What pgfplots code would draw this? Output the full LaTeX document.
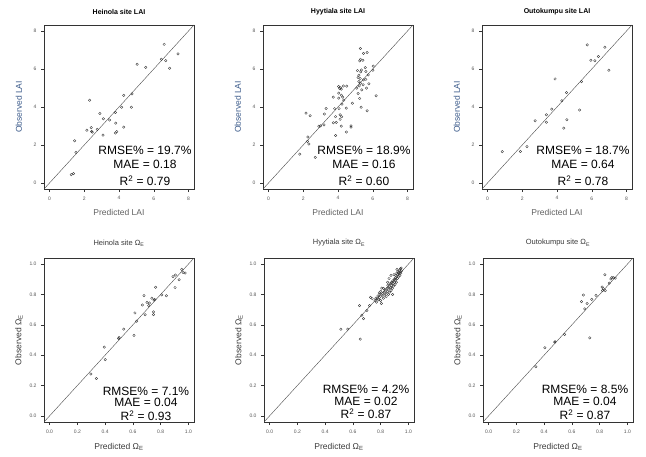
\documentclass[border=0pt]{standalone}
\usepackage{fontspec}
\setmainfont{Liberation Sans}
\usepackage{pgfplots}
\pgfplotsset{compat=1.18}

\definecolor{lblblue}{HTML}{3B5A8A}
\definecolor{lblgray}{HTML}{3A3A3A}
\definecolor{tickgray}{HTML}{555555}

\tikzset{stat/.style={font=\fontsize{12}{12}\selectfont, anchor=center}}

\pgfplotsset{
  rpanel/.style={
    scale only axis, width=150pt, height=164pt,
    axis line style={black!80, line width=0.5pt},
    tick align=outside, xtick pos=left, ytick pos=left,
    major tick length=3pt,
    tick style={black!80, line width=0.4pt},
    /pgf/number format/assume math mode=true,
    ticklabel style={font=\fontsize{5}{5}\selectfont, text=tickgray},
    xticklabel style={yshift=-1pt},
    yticklabel style={xshift=-1pt},
    label style={font=\fontsize{8.5}{9}\selectfont},
    ylabel style={at={(axis description cs:-0.167,0.5)}, anchor=center},
  },
  laipanel/.style={rpanel,
    xmin=-0.32, xmax=8.32, ymin=-0.32, ymax=8.32,
    xtick={0,2,4,6,8}, ytick={0,2,4,6,8},
    title style={font=\fontsize{7}{7}\bfseries, at={(axis description cs:0.5,1.092)}, anchor=center, yshift=-8pt},
    xlabel style={at={(axis description cs:0.5,-0.146)}, anchor=center, text=lblgray!80},
    ylabel style={text=lblblue},
    xlabel={Predicted LAI}, ylabel={Observed LAI},
  },
  omgpanel/.style={rpanel,
    xmin=-0.04, xmax=1.04, ymin=-0.04, ymax=1.04,
    xtick={0,0.2,...,1}, ytick={0,0.2,...,1},
    /pgf/number format/.cd, fixed, fixed zerofill, precision=1, /pgfplots/.cd,
    title style={font=\fontsize{7.5}{7.5}\selectfont, text=lblgray, at={(axis description cs:0.5,1.104)}, anchor=center, yshift=-8pt},
    xlabel style={at={(axis description cs:0.5,-0.15)}, anchor=center, text=lblgray},
    ylabel style={text=lblgray},
    xlabel={Predicted Ω\textsubscript{E}}, ylabel={Observed Ω\textsubscript{E}},
  },
  pts/.style={only marks, mark=o, mark size=1.25pt, mark options={line width=0.35pt, draw=black!80}},
  oneone/.style={black!70, line width=0.4pt},
}

\begin{document}
\begin{tikzpicture}
\useasboundingbox (0,0) rectangle (646pt,456pt);

% ---------------- top row: LAI ----------------
\begin{axis}[laipanel, at={(44pt,267pt)}, anchor=south west, title={Heinola site LAI}]
\addplot[oneone] coordinates {(-0.32,-0.32) (8.32,8.32)};
\addplot[pts] coordinates {
(6.60,7.30) (7.40,6.80) (6.44,6.51) (6.69,6.44) (6.92,6.04) (5.04,6.25) (5.54,6.09)
(4.75,4.69) (4.27,4.61) (2.31,4.36) (4.15,3.99) (4.71,3.99) (3.79,3.71) (2.90,3.66)
(3.10,3.38) (3.46,3.31) (3.81,3.15) (4.27,2.94) (2.40,2.91) (2.15,2.78) (2.75,2.82)
(2.42,2.71) (2.46,2.68) (3.87,2.70) (3.79,2.63) (3.08,2.52) (1.44,2.22) (1.52,1.61)
(1.25,0.44) (1.38,0.49)
};
\node[stat] at (rel axis cs:0.673,0.238) {RMSE\% = 19.7\%};
\node[stat] at (rel axis cs:0.673,0.152) {MAE = 0.18};
\node[stat] at (rel axis cs:0.673,0.049) {R\textsuperscript{2} = 0.79};
\end{axis}

\begin{axis}[laipanel, at={(263pt,267pt)}, anchor=south west, title={Hyytiala site LAI}]
\addplot[oneone] coordinates {(-0.32,-0.32) (8.32,8.32)};
\addplot[pts] coordinates {
(5.29,7.08) (5.68,6.87) (5.47,6.83) (5.29,6.51) (5.43,6.46) (5.25,6.43) (6.03,6.15)
(5.57,6.08) (5.35,5.95) (6.01,5.94) (5.12,5.92) (5.31,5.85) (5.60,5.87) (5.74,5.69)
(5.20,5.67) (5.16,5.55) (5.28,5.50) (5.60,5.46) (5.47,5.43) (5.20,5.34) (5.29,5.25)
(5.78,5.22) (5.45,5.17) (5.22,5.11) (5.08,4.99) (5.64,4.99) (5.37,4.90) (5.16,4.71)
(6.20,4.59) (5.25,4.45) (5.33,3.99) (5.68,3.80) (4.83,4.20) (4.04,5.08) (4.15,5.01)
(4.31,5.11) (4.19,4.94) (4.10,4.97) (4.50,5.10) (4.04,4.73) (4.19,4.62) (4.27,4.52)
(4.04,4.47) (3.73,4.52) (4.33,4.36) (4.23,4.15) (4.48,3.94) (4.06,3.91) (3.81,3.91)
(3.32,3.92) (3.21,3.63) (4.12,3.59) (4.21,3.49) (3.86,3.49) (4.12,3.35) (3.90,3.19)
(3.73,3.17) (4.19,2.99) (4.75,3.01) (4.75,2.94) (4.48,2.68) (3.86,2.50) (3.19,3.06)
(2.90,2.99) (2.99,3.01) (2.16,3.68) (2.40,3.54) (2.26,2.42) (2.24,2.19) (2.32,2.05)
(2.69,1.35) (1.80,1.52)
};
\node[stat] at (rel axis cs:0.673,0.238) {RMSE\% = 18.9\%};
\node[stat] at (rel axis cs:0.673,0.152) {MAE = 0.16};
\node[stat] at (rel axis cs:0.673,0.049) {R\textsuperscript{2} = 0.60};
\end{axis}

\begin{axis}[laipanel, at={(482pt,267pt)}, anchor=south west, title={Outokumpu site LAI}]
\addplot[oneone] coordinates {(-0.32,-0.32) (8.32,8.32)};
\addplot[pts] coordinates {
(5.74,7.27) (6.76,7.15) (5.95,6.46) (6.18,6.44) (6.38,6.66) (6.99,5.94) (3.89,5.48)
(5.41,5.34) (4.55,4.76) (4.28,4.33) (3.70,3.89) (3.39,3.59) (5.30,3.84) (3.39,3.20)
(4.57,3.33) (2.74,3.27) (4.39,2.89) (2.27,1.91) (1.89,1.66) (0.85,1.65)
};
\node[stat] at (rel axis cs:0.673,0.238) {RMSE\% = 18.7\%};
\node[stat] at (rel axis cs:0.673,0.152) {MAE = 0.64};
\node[stat] at (rel axis cs:0.673,0.049) {R\textsuperscript{2} = 0.78};
\end{axis}

% ---------------- bottom row: Omega_E ----------------
\begin{axis}[omgpanel, at={(44pt,34pt)}, anchor=south west, title={Heinola site Ω\textsubscript{E}}]
\addplot[oneone] coordinates {(-0.04,-0.04) (1.04,1.04)};
\addplot[pts] coordinates {
(0.952,0.965) (0.962,0.945) (0.976,0.941) (0.889,0.917) (0.933,0.897) (0.906,0.928)
(0.764,0.847) (0.904,0.845) (0.808,0.797) (0.841,0.792) (0.680,0.792) (0.736,0.775)
(0.702,0.748) (0.719,0.744) (0.668,0.731) (0.714,0.726) (0.752,0.762) (0.757,0.767)
(0.748,0.685) (0.748,0.667) (0.688,0.667) (0.615,0.678) (0.627,0.624) (0.534,0.571)
(0.498,0.510) (0.501,0.516) (0.608,0.530) (0.394,0.453) (0.401,0.370) (0.298,0.276)
(0.337,0.247)
};
\node[stat] at (rel axis cs:0.68,0.189) {RMSE\% = 7.1\%};
\node[stat] at (rel axis cs:0.68,0.122) {MAE = 0.04};
\node[stat] at (rel axis cs:0.68,0.037) {R\textsuperscript{2} = 0.93};
\end{axis}

\begin{axis}[omgpanel, at={(264pt,34pt)}, anchor=south west, title={Hyytiala site Ω\textsubscript{E}}]
\addplot[oneone] coordinates {(-0.04,-0.04) (1.04,1.04)};
\addplot[pts] coordinates {
(0.513,0.571) (0.563,0.571) (0.653,0.505) (0.648,0.726) (0.665,0.663) (0.677,0.641)
(0.701,0.694) (0.720,0.726) (0.727,0.781) (0.739,0.772)
(0.760,0.760) (0.765,0.775) (0.770,0.750) (0.775,0.770) (0.780,0.790) (0.785,0.765)
(0.790,0.780) (0.795,0.800) (0.800,0.760) (0.800,0.820) (0.805,0.740) (0.808,0.842)
(0.810,0.790) (0.815,0.805) (0.820,0.775) (0.825,0.815) (0.830,0.795) (0.832,0.830)
(0.838,0.810) (0.840,0.785) (0.845,0.840) (0.848,0.820) (0.852,0.860) (0.855,0.800)
(0.858,0.835) (0.862,0.850) (0.865,0.815) (0.868,0.870) (0.872,0.845) (0.875,0.825)
(0.878,0.880) (0.880,0.860) (0.884,0.840) (0.886,0.799) (0.888,0.890) (0.890,0.870)
(0.893,0.855) (0.896,0.930) (0.898,0.900) (0.900,0.880) (0.903,0.865) (0.906,0.910)
(0.908,0.895) (0.910,0.925) (0.913,0.880) (0.916,0.940) (0.917,0.965) (0.920,0.905)
(0.922,0.930) (0.925,0.950) (0.928,0.915) (0.930,0.945) (0.933,0.935) (0.936,0.960)
(0.938,0.925) (0.940,0.950) (0.943,0.970) (0.945,0.940) (0.948,0.974) (0.950,0.955)
(0.874,0.926) (0.860,0.905) (0.850,0.880) (0.820,0.840) (0.790,0.810)
};
\node[stat] at (rel axis cs:0.68,0.201) {RMSE\% = 4.2\%};
\node[stat] at (rel axis cs:0.68,0.128) {MAE = 0.02};
\node[stat] at (rel axis cs:0.68,0.049) {R\textsuperscript{2} = 0.87};
\end{axis}

\begin{axis}[omgpanel, at={(483pt,34pt)}, anchor=south west, title={Outokumpu site Ω\textsubscript{E}}]
\addplot[oneone] coordinates {(-0.04,-0.04) (1.04,1.04)};
\addplot[pts] coordinates {
(0.838,0.930) (0.888,0.912) (0.900,0.910) (0.912,0.908) (0.881,0.902) (0.869,0.875)
(0.817,0.849) (0.826,0.838) (0.821,0.825) (0.840,0.825) (0.774,0.794) (0.743,0.768)
(0.683,0.796) (0.669,0.753) (0.710,0.740) (0.693,0.705) (0.548,0.536) (0.479,0.488)
(0.476,0.486) (0.405,0.449) (0.340,0.324) (0.729,0.514)
};
\node[stat] at (rel axis cs:0.68,0.201) {RMSE\% = 8.5\%};
\node[stat] at (rel axis cs:0.68,0.128) {MAE = 0.04};
\node[stat] at (rel axis cs:0.68,0.043) {R\textsuperscript{2} = 0.87};
\end{axis}
\end{tikzpicture}
\end{document}
